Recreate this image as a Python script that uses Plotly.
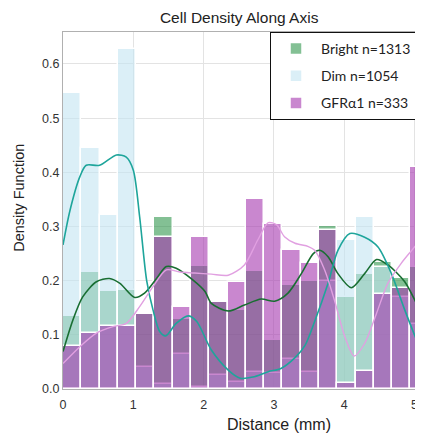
import plotly.graph_objects as go

# ---- data ----
bin_width = 0.26
n_bins = 20
bright = [0.135, 0.216, 0.18, 0.183, 0.138, 0.317, 0.129, 0.227, 0.161, 0.146,
          0.218, 0.09, 0.192, 0.2, 0.301, 0.17, 0.212, 0.235, 0.205, 0.225]
dim = [0.546, 0.445, 0.321, 0.627, 0.04, 0.01, 0.065, 0.004, 0.026, 0.013,
       0.032, 0.03, 0.055, 0.032, 0.2, 0.275, 0.318, 0.225, 0.17, 0.12]
gfr = [0.08, 0.103, 0.116, 0.116, 0.138, 0.28, 0.151, 0.28, 0.161, 0.198,
       0.35, 0.304, 0.256, 0.232, 0.293, 0.011, 0.033, 0.175, 0.186, 0.41]

dim_kde_x = [0, 0.1, 0.24, 0.33, 0.52, 0.76, 0.9, 1.0, 1.09, 1.19, 1.28, 1.375, 1.46, 1.61,
             1.78, 1.9, 2.11, 2.35, 2.52, 2.7, 2.92, 3.1, 3.3, 3.44, 3.58, 3.77, 3.91, 4.08,
             4.29, 4.48, 4.67, 4.86, 5.05, 5.12]
dim_kde_y = [0.266, 0.33, 0.392, 0.413, 0.413, 0.432, 0.428, 0.404, 0.318, 0.2, 0.146, 0.106,
             0.098, 0.121, 0.135, 0.125, 0.072, 0.035, 0.02, 0.022, 0.032, 0.038, 0.058, 0.08,
             0.125, 0.195, 0.256, 0.287, 0.28, 0.262, 0.213, 0.146, 0.084, 0.065]

bright_kde_x = [0, 0.14, 0.28, 0.475, 0.66, 0.81, 1.02, 1.16, 1.33, 1.47, 1.61, 1.85, 2.02,
                2.11, 2.35, 2.58, 2.82, 3.01, 3.2, 3.39, 3.56, 3.65, 3.77, 3.91, 4.1, 4.29,
                4.46, 4.62, 4.86, 5.05, 5.12]
bright_kde_y = [0.069, 0.127, 0.17, 0.198, 0.204, 0.195, 0.169, 0.177, 0.204, 0.226, 0.223,
                0.201, 0.18, 0.158, 0.144, 0.155, 0.166, 0.162, 0.177, 0.213, 0.25, 0.256,
                0.244, 0.213, 0.187, 0.213, 0.239, 0.229, 0.198, 0.152, 0.135]

gfr_kde_x = [0, 0.24, 0.475, 0.71, 0.9, 1.09, 1.28, 1.47, 1.66, 1.87, 2.11, 2.35, 2.58, 2.77,
             2.92, 3.04, 3.15, 3.3, 3.49, 3.58, 3.72, 3.86, 4.01, 4.14, 4.29, 4.46, 4.62,
             4.81, 4.96, 5.12]
gfr_kde_y = [0.047, 0.078, 0.103, 0.115, 0.121, 0.152, 0.189, 0.22, 0.216, 0.214, 0.212,
             0.21, 0.229, 0.275, 0.307, 0.303, 0.281, 0.269, 0.263, 0.256, 0.22, 0.164,
             0.096, 0.061, 0.084, 0.14, 0.195, 0.232, 0.256, 0.281]

labels = ["Bright n=1313", "Dim n=1054", "GFR\u03b11 n=333"]
y_ticks = [0.0, 0.1, 0.2, 0.3, 0.4, 0.5, 0.6]
x_ticks = [0, 1, 2, 3, 4, 5]

centers = [bin_width * (i + 0.5) for i in range(n_bins)]

fig = go.Figure()
bar_specs = [
    (bright, labels[0], "rgba(30,140,60,0.55)", "g1"),
    (dim, labels[1], "rgba(195,228,242,0.6)", "g2"),
    (gfr, labels[2], "rgba(165,55,175,0.6)", "g3"),
]
for vals, name, col, grp in bar_specs:
    fig.add_trace(go.Bar(
        x=centers, y=vals, width=bin_width, name=name, legendgroup=grp,
        marker=dict(color=col, line=dict(color="white", width=1.5)),
    ))

line_specs = [
    (bright_kde_x, bright_kde_y, "rgb(25,110,50)", 1.6),
    (dim_kde_x, dim_kde_y, "rgb(30,165,155)", 1.6),
    (gfr_kde_x, gfr_kde_y, "rgb(225,160,225)", 1.4),
]
for xs, ys, col, w in line_specs:
    fig.add_trace(go.Scatter(
        x=xs, y=ys, mode="lines", showlegend=False, hoverinfo="skip",
        line=dict(color=col, width=w, shape="spline", smoothing=0.8),
    ))

font_main = "Liberation Sans, Arial, sans-serif"
# page body has an 8px margin, so the figure is made 8px smaller in each direction
fig.update_layout(
    width=415, height=429,
    margin=dict(l=55, r=0, t=24, b=48, autoexpand=False),
    barmode="overlay", bargap=0,
    paper_bgcolor="white", plot_bgcolor="white",
    title=dict(text="Cell Density Along Axis", x=0.557, xanchor="center",
               y=0.978, yanchor="middle",
               font=dict(family=font_main, size=15.5, color="#222")),
    legend=dict(
        x=0.575, xanchor="left", y=1, yanchor="top",
        bgcolor="white", bordercolor="#111", borderwidth=1,
        font=dict(family="Lato, sans-serif", size=14, color="#222"),
        tracegroupgap=6, itemwidth=40,
    ),
    showlegend=True,
    annotations=[
        dict(text="Distance (mm)", xref="paper", yref="paper", x=0.6, y=-0.1,
             xanchor="center", yanchor="middle", showarrow=False,
             font=dict(family=font_main, size=16, color="#222")),
        dict(text="Density Function", xref="paper", yref="paper", x=-0.123, y=0.535,
             xanchor="center", yanchor="middle", showarrow=False, textangle=-90,
             font=dict(family=font_main, size=14.5, color="#222")),
    ],
)
fig.update_xaxes(
    range=[0, 5.12], tickvals=x_ticks, ticktext=[str(t) for t in x_ticks],
    showgrid=True, gridcolor="#e3e3e3", gridwidth=1, automargin=False,
    showline=True, linecolor="#b0b0b0", mirror=True, zeroline=False,
    tickfont=dict(family=font_main, size=12.5, color="#333"), ticklabelstandoff=4,
)
fig.update_yaxes(
    range=[0, 0.659], tickvals=y_ticks, ticktext=[f"{t:.1f}" for t in y_ticks],
    showgrid=True, gridcolor="#e3e3e3", gridwidth=1, automargin=False,
    showline=True, linecolor="#b0b0b0", mirror=False, zeroline=False,
    tickfont=dict(family=font_main, size=12.5, color="#333"),
)

fig.write_html("out.html")
